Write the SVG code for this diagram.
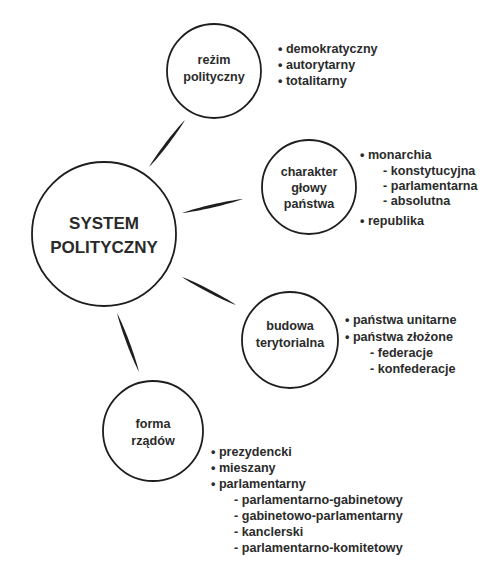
<svg xmlns="http://www.w3.org/2000/svg" width="493" height="566" viewBox="0 0 493 566">
<style>
.c{fill:none;stroke:#1e1e1e;stroke-width:1.8}
.t{font-family:"Liberation Sans",Arial,sans-serif;font-weight:bold;font-size:12.6px;fill:#2b2b2b}
.m{text-anchor:middle}
.big{font-size:17px;fill:#2a2a2a}
.br{fill:#1e1e1e}
</style>
<rect width="493" height="566" fill="#fff"/>
<g id="connectors">
<path class="br" d="M185,120 C177.6,133 159.6,156.5 149,167 C156.4,154 174.4,130.5 185,120 Z"/>
<path class="br" d="M182,213 C197.7,211.45 228.2,204.45 243,199 C227.3,200.55 196.8,207.55 182,213 Z"/>
<path class="br" d="M182,277 C194.6,285.8 221.6,299.8 236,305 C223.4,296.2 196.4,282.2 182,277 Z"/>
<path class="br" d="M117,313 C120.6,328.45 131.6,357.95 139,372 C135.4,356.55 124.4,327.05 117,313 Z"/>
</g>
<g id="system">
<circle class="c" cx="104" cy="234" r="72"/>
<text class="t m big" x="104" y="229">SYSTEM</text>
<text class="t m big" x="104" y="253">POLITYCZNY</text>
</g>
<g id="rezim">
<circle class="c" cx="214" cy="71" r="47"/>
<text class="t m" x="214" y="64">reżim</text>
<text class="t m" x="214" y="81">polityczny</text>
<text class="t" x="278" y="53">• demokratyczny</text>
<text class="t" x="278" y="69">• autorytarny</text>
<text class="t" x="278" y="85">• totalitarny</text>
</g>
<g id="charakter">
<circle class="c" cx="309" cy="187" r="47"/>
<text class="t m" x="309" y="176">charakter</text>
<text class="t m" x="309" y="192">głowy</text>
<text class="t m" x="309" y="208">państwa</text>
<text class="t" x="360" y="159">• monarchia</text>
<text class="t" x="383" y="175">- konstytucyjna</text>
<text class="t" x="383" y="190">- parlamentarna</text>
<text class="t" x="383" y="205">- absolutna</text>
<text class="t" x="360" y="225">• republika</text>
</g>
<g id="budowa">
<circle class="c" cx="290" cy="340" r="48"/>
<text class="t m" x="290" y="330">budowa</text>
<text class="t m" x="290" y="347">terytorialna</text>
<text class="t" x="345" y="324">• państwa unitarne</text>
<text class="t" x="345" y="341">• państwa złożone</text>
<text class="t" x="370" y="357">- federacje</text>
<text class="t" x="370" y="373">- konfederacje</text>
</g>
<g id="forma">
<circle class="c" cx="153" cy="431" r="50"/>
<text class="t m" x="153" y="428">forma</text>
<text class="t m" x="153" y="445">rządów</text>
<text class="t" x="211" y="456">• prezydencki</text>
<text class="t" x="211" y="472">• mieszany</text>
<text class="t" x="211" y="488">• parlamentarny</text>
<text class="t" x="234" y="504">- parlamentarno-gabinetowy</text>
<text class="t" x="234" y="520">- gabinetowo-parlamentarny</text>
<text class="t" x="234" y="536">- kanclerski</text>
<text class="t" x="234" y="552">- parlamentarno-komitetowy</text>
</g>
</svg>
